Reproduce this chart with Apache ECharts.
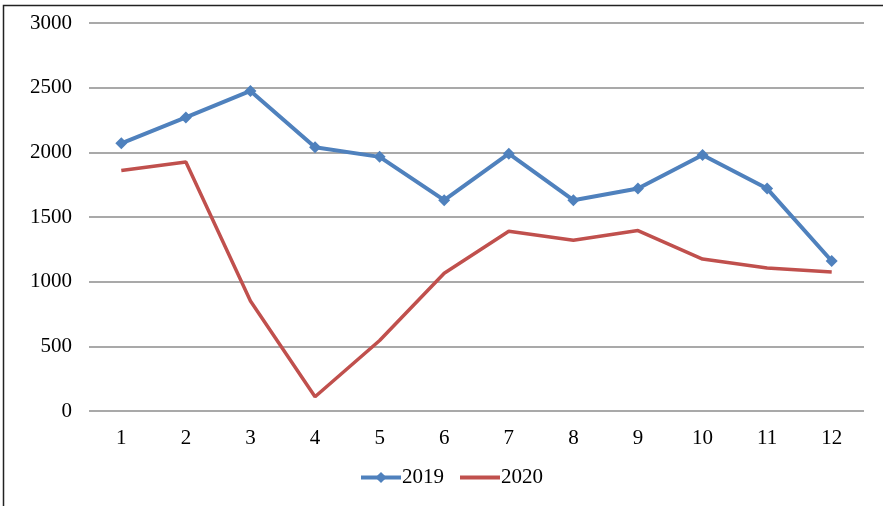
<!DOCTYPE html>
<html lang="en">
<head>
    <meta charset="UTF-8"/>
    <title>2019 vs 2020</title>
    <script src="https://cdn.jsdelivr.net/npm/echarts@6/dist/echarts.min.js"></script>
    <style>
        body { margin: 0; background: #fff; }
    </style>
</head>
<body>
<div id="main" style="width: 883px;height:506px;"></div>
<script type="text/javascript">
    // 月份与两年数据
    var months = ['1', '2', '3', '4', '5', '6', '7', '8', '9', '10', '11', '12'];
    var data2019 = [2070, 2270, 2475, 2040, 1965, 1630, 1990, 1630, 1720, 1980, 1720, 1160];
    var data2020 = [1860, 1925, 850, 110, 545, 1065, 1390, 1320, 1395, 1175, 1105, 1075];
    var yTicks = [0, 500, 1000, 1500, 2000, 2500, 3000];

    var myChart = echarts.init(document.getElementById('main'));
    var font = '"Liberation Serif", "DejaVu Serif", serif';

    var option = {
        animation: false,
        textStyle: { fontFamily: font },
        graphic: [{
            type: 'rect',
            shape: { x: 3.5, y: 5.5, width: 900, height: 520 },
            style: { fill: 'none', stroke: '#222', lineWidth: 1.5 },
            silent: true
        }],
        grid: { left: 89, right: 19, top: 23, bottom: 95 },
        legend: {
            bottom: 13,
            left: 354,
            itemWidth: 40,
            itemHeight: 14,
            itemGap: 14,
            textStyle: { fontFamily: font, fontSize: 21, color: '#000', padding: [0, 0, 0, -4] },
            data: [
                { name: '2019', lineStyle: { width: 4 } },
                { name: '2020', lineStyle: { width: 4 }, itemStyle: { opacity: 0 } }
            ]
        },
        xAxis: {
            type: 'category',
            data: months,
            boundaryGap: true,
            axisLine: { show: false },
            axisTick: { show: false },
            axisLabel: { fontFamily: font, fontSize: 21, color: '#000', margin: 17 }
        },
        yAxis: {
            type: 'value',
            min: yTicks[0],
            max: yTicks[yTicks.length - 1],
            interval: 500,
            axisLine: { show: false },
            axisTick: { show: false },
            axisLabel: {
                fontFamily: font, fontSize: 21, color: '#000', margin: 17,
                formatter: function (v) { return String(v); }
            },
            splitLine: { lineStyle: { color: '#8c8c8c', width: 1.5 } }
        },
        series: [
            {
                name: '2019',
                type: 'line',
                data: data2019,
                symbol: 'diamond',
                symbolSize: 12,
                itemStyle: { color: '#4f81bd' },
                lineStyle: { color: '#4f81bd', width: 4 }
            },
            {
                name: '2020',
                type: 'line',
                data: data2020,
                symbol: 'none',
                itemStyle: { color: '#c0504d' },
                lineStyle: { color: '#c0504d', width: 3.5 }
            }
        ]
    };
    myChart.setOption(option);
</script>
</body>
</html>
